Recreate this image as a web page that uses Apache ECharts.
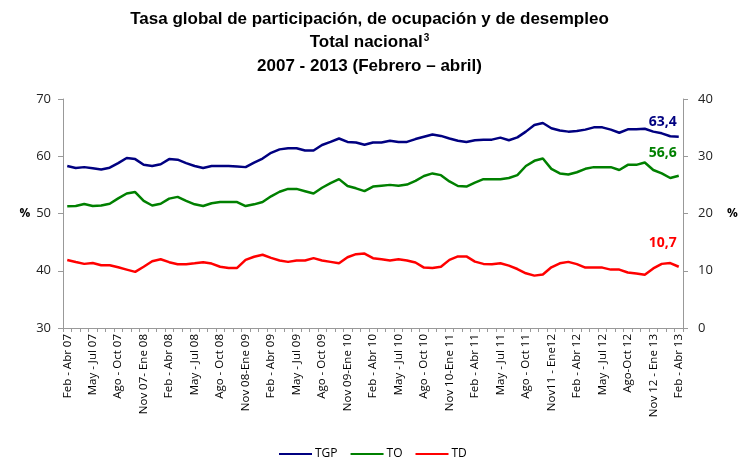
<!DOCTYPE html>
<html>
<head>
<meta charset="utf-8">
<script src="https://cdn.jsdelivr.net/npm/echarts@6/dist/echarts.min.js"></script>
<style>
  html, body { margin: 0; padding: 0; background: #fff; }
  #chart { width: 739px; height: 459px; }
</style>
</head>
<body>
<div id="chart"></div>
<script>
  // periodos trimestrales moviles, feb-abr 2007 a feb-abr 2013
  var tickLabels = [
    'Feb - Abr 07', 'May - Jul 07', 'Ago - Oct 07', 'Nov 07- Ene 08',
    'Feb - Abr 08', 'May - Jul 08', 'Ago - Oct 08', 'Nov 08-Ene 09',
    'Feb - Abr 09', 'May - Jul 09', 'Ago - Oct 09', 'Nov 09-Ene 10',
    'Feb - Abr 10', 'May - Jul 10', 'Ago - Oct 10', 'Nov 10-Ene 11',
    'Feb - Abr 11', 'May - Jul 11', 'Ago - Oct 11', 'Nov11 - Ene12',
    'Feb - Abr 12', 'May - Jul 12', 'Ago-Oct 12', 'Nov 12 - Ene 13',
    'Feb - Abr 13'
  ];
  var months = ['Feb - Abr', 'Mar - May', 'Abr - Jun', 'May - Jul', 'Jun - Ago', 'Jul - Sep',
                'Ago - Oct', 'Sep - Nov', 'Oct - Dic', 'Nov - Ene', 'Dic - Feb', 'Ene - Mar'];

  var tgp = [58.3, 57.95, 58.1, 57.9, 57.7, 58.0, 58.8, 59.7, 59.5, 58.5, 58.3, 58.6, 59.5, 59.4, 58.8, 58.3,
             57.95, 58.3, 58.3, 58.3, 58.2, 58.1, 58.9, 59.6, 60.6, 61.2, 61.4, 61.4, 61.0, 61.0, 61.97, 62.5,
             63.1, 62.5, 62.4, 62.0, 62.4, 62.4, 62.7, 62.5, 62.5, 63.0, 63.4, 63.8, 63.55, 63.1, 62.7, 62.5,
             62.8, 62.9, 62.9, 63.25, 62.8, 63.3, 64.3, 65.45, 65.8, 64.9, 64.5, 64.3, 64.4, 64.65, 65.05, 65.05,
             64.65, 64.1, 64.7, 64.7, 64.8, 64.3, 64.0, 63.5, 63.4];
  var to = [51.26, 51.3, 51.66, 51.3, 51.4, 51.7, 52.65, 53.5, 53.75, 52.2, 51.4, 51.7, 52.6, 52.9, 52.2, 51.6,
            51.3, 51.8, 52.0, 52.0, 52.0, 51.3, 51.6, 52.0, 53.0, 53.8, 54.3, 54.3, 53.9, 53.5, 54.5, 55.3,
            56.0, 54.8, 54.4, 53.9, 54.7, 54.85, 55.0, 54.85, 55.05, 55.7, 56.55, 57.0, 56.7, 55.6, 54.8, 54.7,
            55.4, 56.0, 56.0, 56.0, 56.2, 56.7, 58.3, 59.2, 59.6, 57.8, 57.0, 56.8, 57.2, 57.8, 58.1, 58.1,
            58.1, 57.6, 58.5, 58.5, 58.9, 57.6, 57.0, 56.2, 56.6];
  var td = [11.88, 11.53, 11.2, 11.35, 10.95, 10.95, 10.6, 10.2, 9.8, 10.7, 11.65, 12.0, 11.5, 11.15, 11.15, 11.3,
            11.5, 11.25, 10.7, 10.5, 10.5, 11.9, 12.45, 12.8, 12.25, 11.8, 11.55, 11.8, 11.8, 12.2, 11.8, 11.55,
            11.3, 12.35, 12.9, 13.0, 12.2, 12.0, 11.8, 12.0, 11.8, 11.45, 10.55, 10.5, 10.7, 11.9, 12.5, 12.5,
            11.6, 11.2, 11.15, 11.3, 10.9, 10.3, 9.55, 9.15, 9.35, 10.6, 11.3, 11.55, 11.15, 10.55, 10.55, 10.55,
            10.2, 10.2, 9.7, 9.5, 9.3, 10.4, 11.2, 11.35, 10.7];

  // categorias: etiqueta visible cada tres meses
  var categories = [];
  for (var i = 0; i < tgp.length; i++) {
    if (i % 3 === 0) {
      categories.push(tickLabels[i / 3]);
    } else {
      var yr = 7 + Math.floor(i / 12);
      categories.push(months[i % 12] + ' ' + (yr < 10 ? '0' + yr : yr));
    }
  }

  var axisFont = 'Open Sans, Liberation Sans, sans-serif';
  var titleFont = 'Liberation Sans, sans-serif';

  function endLbl(color, dy) {
    return {
      show: true,
      color: color,
      fontWeight: 'bold',
      fontSize: 14,
      fontFamily: axisFont,
      align: 'right',
      verticalAlign: 'bottom',
      offset: [-10, dy],
      formatter: function (p) {
        return String(p.value).replace('.', ',');
      }
    };
  }

  var chart = echarts.init(document.getElementById('chart'));
  chart.setOption({
    animation: false,
    title: [
      {
        text: 'Tasa global de participación, de ocupación y de desempleo',
        left: 'center', top: 6,
        textStyle: { fontFamily: titleFont, fontSize: 17, fontWeight: 'bold', color: '#000' }
      },
      {
        text: '{a|Total nacional}{s|3}',
        left: 'center', top: 28,
        textStyle: {
          rich: {
            a: { fontFamily: titleFont, fontSize: 17, fontWeight: 'bold', color: '#000' },
            s: { fontFamily: titleFont, fontSize: 10, fontWeight: 'bold', color: '#000', verticalAlign: 'top', padding: [0, 0, 8, 1] }
          }
        }
      },
      {
        text: '2007 - 2013 (Febrero – abril)',
        left: 'center', top: 53,
        textStyle: { fontFamily: titleFont, fontSize: 17, fontWeight: 'bold', color: '#000' }
      }
    ],
    legend: {
      top: 443,
      left: 274,
      itemWidth: 33,
      itemHeight: 2,
      itemGap: 13,
      icon: 'rect',
      textStyle: { fontFamily: axisFont, fontSize: 12, color: '#000', padding: [0, 0, 0, -2] },
      data: ['TGP', 'TO', 'TD']
    },
    grid: { left: 63, right: 56, top: 99, bottom: 131, outerBoundsMode: 'none', containLabel: false },
    xAxis: {
      type: 'category',
      data: categories,
      boundaryGap: true,
      axisLine: { lineStyle: { color: '#999' } },
      axisTick: { show: true, interval: 0, length: 4, inside: false, lineStyle: { color: '#999' } },
      axisLabel: {
        interval: 2,
        rotate: 90,
        fontFamily: axisFont,
        fontSize: 11.5,
        color: '#000',
        margin: 6
      }
    },
    yAxis: [
      {
        type: 'value',
        min: 30, max: 70, interval: 10,
        name: '%',
        nameLocation: 'middle',
        nameRotate: 0,
        nameGap: 31,
        nameTextStyle: { fontFamily: axisFont, fontWeight: 'bold', fontSize: 12, color: '#000' },
        axisLine: { show: true, lineStyle: { color: '#999' } },
        axisTick: { show: true, length: 5, lineStyle: { color: '#999' } },
        splitLine: { show: false },
        axisLabel: { fontFamily: axisFont, fontSize: 13, color: '#222', margin: 12 }
      },
      {
        type: 'value',
        min: 0, max: 40, interval: 10,
        name: '%',
        nameLocation: 'middle',
        nameRotate: 0,
        nameGap: 44,
        nameTextStyle: { fontFamily: axisFont, fontWeight: 'bold', fontSize: 12, color: '#000' },
        axisLine: { show: true, lineStyle: { color: '#999' } },
        axisTick: { show: true, length: 5, lineStyle: { color: '#999' } },
        splitLine: { show: false },
        axisLabel: { fontFamily: axisFont, fontSize: 13, color: '#222', margin: 15 }
      }
    ],
    series: [
      {
        name: 'TGP', type: 'line', data: tgp, yAxisIndex: 0,
        symbol: 'none',
        itemStyle: { color: '#000080' },
        lineStyle: { color: '#000080', width: 2.5 },
        endLabel: endLbl('#000080', -8)
      },
      {
        name: 'TO', type: 'line', data: to, yAxisIndex: 0,
        symbol: 'none',
        itemStyle: { color: '#008000' },
        lineStyle: { color: '#008000', width: 2.5 },
        endLabel: endLbl('#008000', -16)
      },
      {
        name: 'TD', type: 'line', data: td, yAxisIndex: 1,
        symbol: 'none',
        itemStyle: { color: '#ff0000' },
        lineStyle: { color: '#ff0000', width: 2.5 },
        endLabel: endLbl('#ff0000', -17)
      }
    ]
  });
</script>
</body>
</html>
